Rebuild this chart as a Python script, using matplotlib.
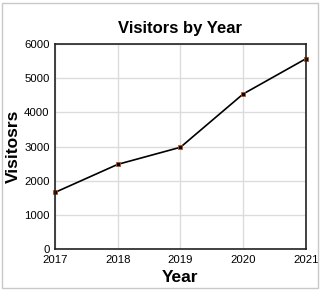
import matplotlib.pyplot as plt
from matplotlib.patches import Rectangle

# data
years = [2017, 2018, 2019, 2020, 2021]
visitors = [1660, 2480, 2980, 4540, 5570]
yticks = [0, 1000, 2000, 3000, 4000, 5000, 6000]

plt.rcParams['font.family'] = ['Liberation Sans', 'DejaVu Sans']

fig = plt.figure(figsize=(3.24, 2.92), dpi=100)
ax = fig.add_axes([0.170, 0.147, 0.774, 0.702])

# outer chart border
fig.patches.append(Rectangle((0.006, 0.015), 0.975, 0.975, transform=fig.transFigure,
                             fill=False, edgecolor="#c8c8c8", linewidth=1))

ax.plot(years, visitors, color="black", linewidth=1.2, clip_on=False,
        marker="s", markersize=3, markerfacecolor="black", markeredgecolor="#c0501a",
        markeredgewidth=0.6)

ax.set_xlim(2017, 2021)
ax.set_ylim(0, 6000)
ax.set_xticks(years)
ax.set_yticks(yticks)
ax.grid(True, color="#dcdcdc", linewidth=1)
ax.set_axisbelow(True)
for s in ax.spines.values():
    s.set_color("#222222")
    s.set_linewidth(1.2)
ax.tick_params(length=0, labelsize=8.2, pad=4)

ax.set_title("Visitors by Year", fontsize=12, fontweight="bold", pad=8)
ax.set_xlabel("Year", fontsize=12.5, fontweight="bold", labelpad=4)
ax.set_ylabel("Visitosrs", fontsize=12.5, fontweight="bold")
ax.yaxis.set_label_coords(-0.135, 0.5)

plt.savefig("out.png", dpi=100)
